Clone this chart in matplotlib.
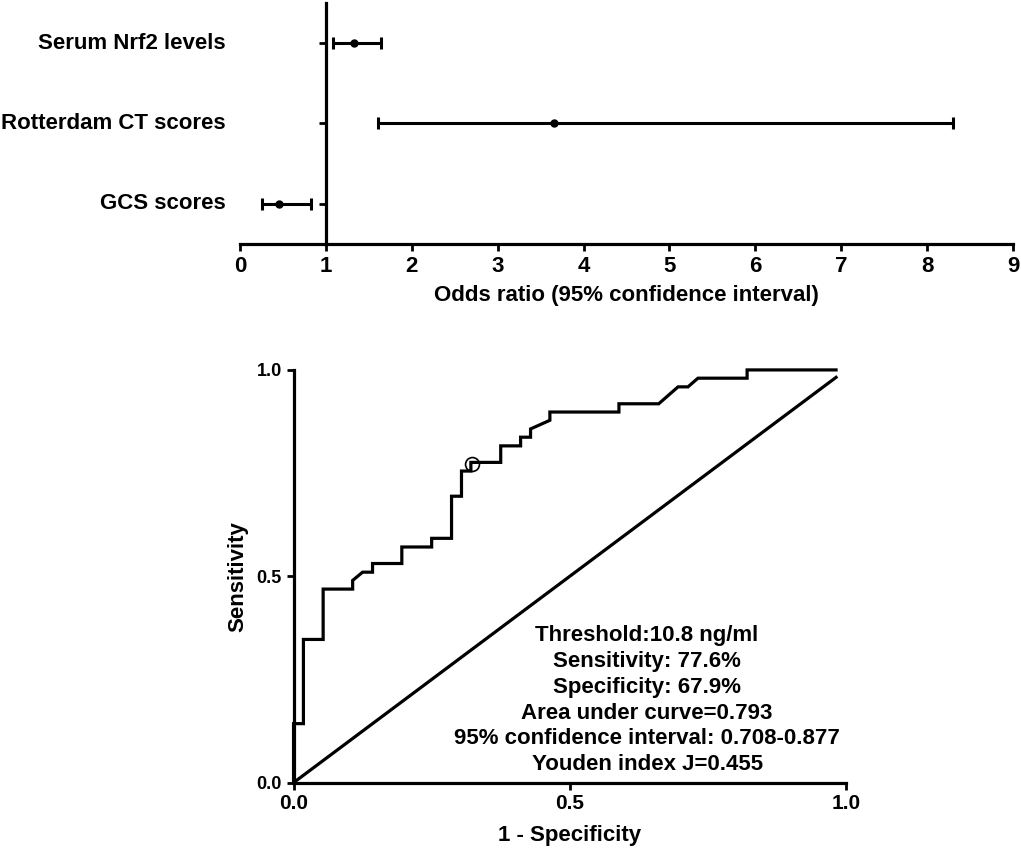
import matplotlib
matplotlib.use('Agg')
import matplotlib.pyplot as plt

plt.rcParams['font.family'] = ['Liberation Sans', 'DejaVu Sans']
plt.rcParams['font.weight'] = 'bold'

# Forest plot data (odds ratio with 95% CI)
factors = ['Serum Nrf2 levels', 'Rotterdam CT scores', 'GCS scores']
odds_ratio = [1.33, 3.65, 0.45]
ci_low = [1.08, 1.61, 0.25]
ci_high = [1.64, 8.30, 0.83]

# ROC curve vertices (1 - specificity, sensitivity)
roc_fpr = [0, 0, 0.0179, 0.0179, 0.0536, 0.0536, 0.107, 0.107, 0.125, 0.143,
           0.143, 0.196, 0.196, 0.25, 0.25, 0.286, 0.286, 0.304, 0.304, 0.321,
           0.321, 0.375, 0.375, 0.411, 0.411, 0.429, 0.429, 0.464, 0.464, 0.589,
           0.589, 0.661, 0.696, 0.714, 0.732, 0.821, 0.821, 0.982]
roc_tpr = [0, 0.143, 0.143, 0.347, 0.347, 0.469, 0.469, 0.490, 0.510, 0.510,
           0.531, 0.531, 0.571, 0.571, 0.592, 0.592, 0.694, 0.694, 0.755, 0.755,
           0.776, 0.776, 0.816, 0.816, 0.837, 0.837, 0.857, 0.878, 0.898, 0.898,
           0.918, 0.918, 0.959, 0.959, 0.980, 0.980, 1.0, 1.0]
ref_line = [0, 0.982]
cutoff = (0.323, 0.773)
roc_notes = ['Threshold:10.8 ng/ml', 'Sensitivity: 77.6%', 'Specificity: 67.9%',
             'Area under curve=0.793', '95% confidence interval: 0.708-0.877',
             'Youden index J=0.455']

fig = plt.figure(figsize=(10.21, 8.51), dpi=100)

# --- forest plot ---
ax1 = fig.add_axes([0.2351, 0.7133, 0.7571, 0.2832])
rows = [3, 2, 1]
for y, orr, lo, hi in zip(rows, odds_ratio, ci_low, ci_high):
    ax1.errorbar(orr, y, xerr=[[orr - lo], [hi - orr]], fmt='o', color='black',
                 ms=5, lw=2.2, capsize=4.5, capthick=2.2)
ax1.set_xlim(0, 9)
ax1.set_ylim(0.5, 3.5)
ax1.set_xticks(range(10))
ax1.set_yticks(rows)
ax1.set_yticklabels([])
for y, name in zip(rows, factors):
    ax1.text(-0.019, y, name, transform=ax1.get_yaxis_transform(),
             ha='right', va='center', fontsize=16, fontweight='bold')
ax1.spines['top'].set_visible(False)
ax1.spines['right'].set_visible(False)
ax1.spines['left'].set_position(('data', 1))
for s in ['left', 'bottom']:
    ax1.spines[s].set_linewidth(2.3)
ax1.tick_params(axis='both', direction='out', length=5, width=2, labelsize=16)
ax1.set_xlabel('Odds ratio (95% confidence interval)', fontsize=16,
               fontweight='bold', labelpad=6)

# --- ROC curve ---
ax2 = fig.add_axes([0.2875, 0.0803, 0.5411, 0.485])
ax2.plot(roc_fpr, roc_tpr, color='black', lw=2.3, solid_joinstyle='miter',
         clip_on=False)
ax2.plot(ref_line, ref_line, color='black', lw=2.3, clip_on=False)
ax2.plot(*cutoff, 'o', mfc='none', mec='black', ms=10, mew=1.2)
ax2.set_xlim(0, 1)
ax2.set_ylim(0, 1)
ax2.set_xticks([0, 0.5, 1.0])
ax2.set_yticks([0, 0.5, 1.0])
ax2.set_xticklabels(['0.0', '0.5', '1.0'], fontsize=15)
ax2.set_yticklabels(['0.0', '0.5', '1.0'], fontsize=13)
ax2.spines['top'].set_visible(False)
ax2.spines['right'].set_visible(False)
for s in ['left', 'bottom']:
    ax2.spines[s].set_linewidth(2.3)
ax2.tick_params(axis='both', direction='out', length=5, width=2)
ax2.set_xlabel('1 - Specificity', fontsize=16, fontweight='bold', labelpad=8)
ax2.set_ylabel('Sensitivity', fontsize=16, fontweight='bold', labelpad=6)
note_y = [0.357, 0.294, 0.231, 0.168, 0.108, 0.045]
for y, t in zip(note_y, roc_notes):
    ax2.text(0.640, y, t, ha='center', va='center', fontsize=16,
             fontweight='bold')

fig.savefig('out.png', dpi=100)
